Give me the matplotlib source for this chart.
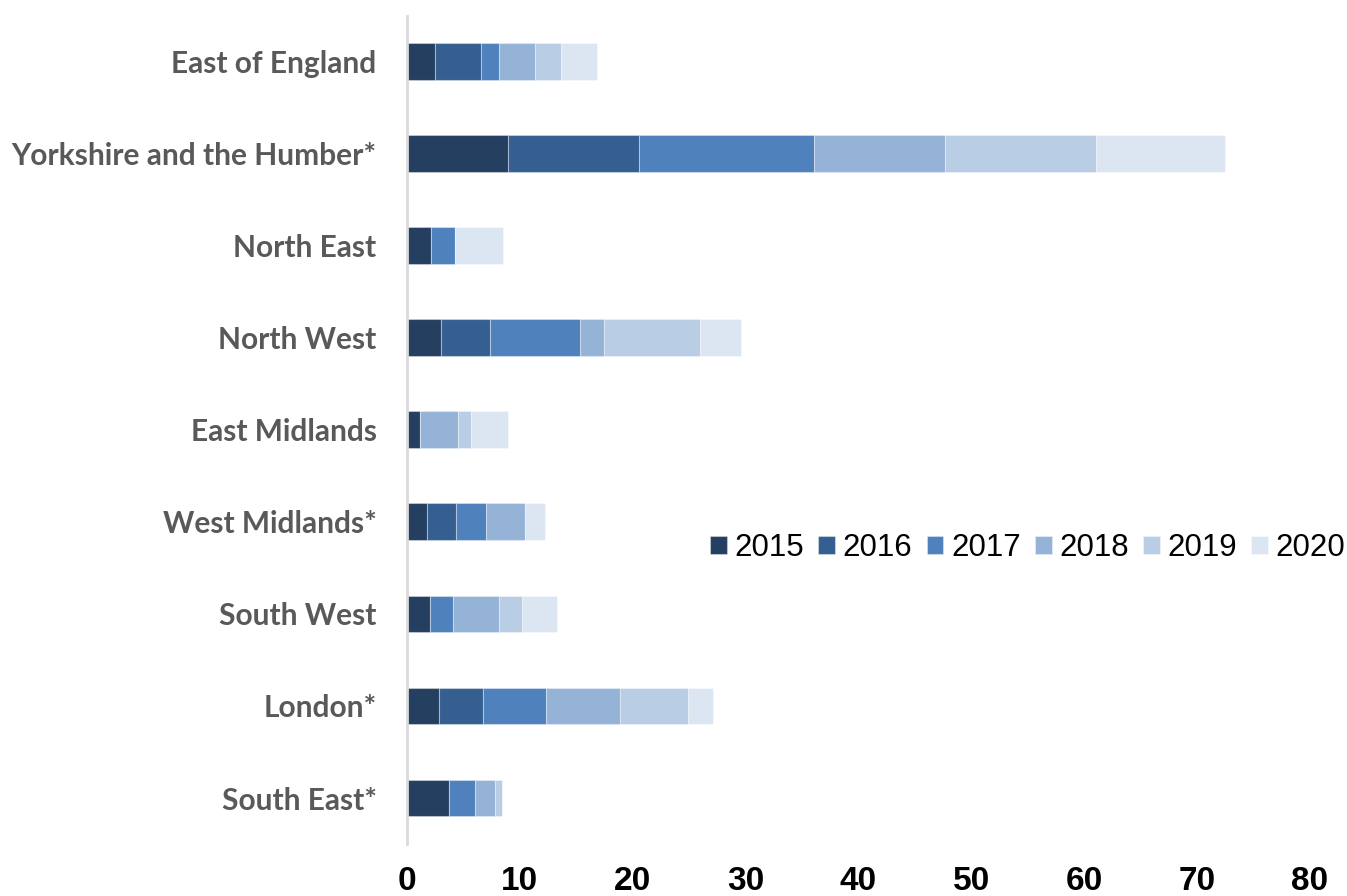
import matplotlib
matplotlib.use("Agg")
import matplotlib.pyplot as plt
import numpy as np

regions = [
    "East of England",
    "Yorkshire and the Humber*",
    "North East",
    "North West",
    "East Midlands",
    "West Midlands*",
    "South West",
    "London*",
    "South East*",
]
years = ["2015", "2016", "2017", "2018", "2019", "2020"]

v2015 = [2.45, 8.90, 2.12, 2.97, 1.12, 1.73, 2.06, 2.80, 3.68]
v2016 = [4.07, 11.68, 0.00, 4.40, 0.00, 2.63, 0.00, 3.95, 0.00]
v2017 = [1.59, 15.46, 2.15, 7.97, 0.00, 2.66, 2.04, 5.52, 2.36]
v2018 = [3.22, 11.60, 0.00, 2.12, 3.36, 3.45, 4.07, 6.61, 1.77]
v2019 = [2.33, 13.36, 0.00, 8.50, 1.15, 0.00, 2.04, 6.01, 0.60]
v2020 = [3.16, 11.48, 4.23, 3.62, 3.33, 1.77, 3.07, 2.19, 0.00]

series = [v2015, v2016, v2017, v2018, v2019, v2020]
colors = ["#253F60", "#355F91", "#4F81BD", "#95B3D7", "#B9CDE5", "#DCE6F2"]

fig = plt.figure(figsize=(13.47, 8.96), dpi=100)
ax = fig.add_axes([0.3022, 0.058, 0.9725 - 0.3022, 0.9245])

ypos = np.arange(len(regions))
left = np.zeros(len(regions))
for vals, col, yr in zip(series, colors, years):
    vals = np.array(vals)
    ax.barh(ypos, vals, left=left, height=0.40, color=col, label=yr,
            edgecolor=(1, 1, 1, 0.35), linewidth=0.8)
    left += vals

ax.set_xlim(0, 80)
ax.set_ylim(len(regions) - 0.5, -0.5)
ax.set_xticks(np.arange(0, 81, 10))
ax.set_yticks(ypos)
ax.set_yticklabels(regions, fontsize=21.5, fontweight="bold", color="#595959",
                   family=["Lato", "DejaVu Sans"])
for lab in ax.get_xticklabels():
    lab.set_family(["Liberation Sans Narrow", "Liberation Sans", "DejaVu Sans"])
    lab.set_fontsize(24)
    lab.set_fontweight("bold")
    lab.set_color("black")
ax.tick_params(axis="x", length=0, pad=16)
ax.tick_params(axis="y", length=0, pad=22)

for s in ["top", "right", "bottom"]:
    ax.spines[s].set_visible(False)
ax.spines["left"].set_color("#D9D9D9")
ax.spines["left"].set_linewidth(2)

handles, labels = ax.get_legend_handles_labels()
fig.legend(handles, labels, loc="center right", bbox_to_anchor=(0.9985, 0.3884),
           ncol=6, frameon=False, handlelength=0.54, handleheight=0.54,
           handletextpad=0.24, columnspacing=0.45, borderaxespad=0, borderpad=0,
           prop={"family": ["Liberation Sans", "DejaVu Sans"], "size": 22.5})

fig.savefig("out.png", dpi=100)
